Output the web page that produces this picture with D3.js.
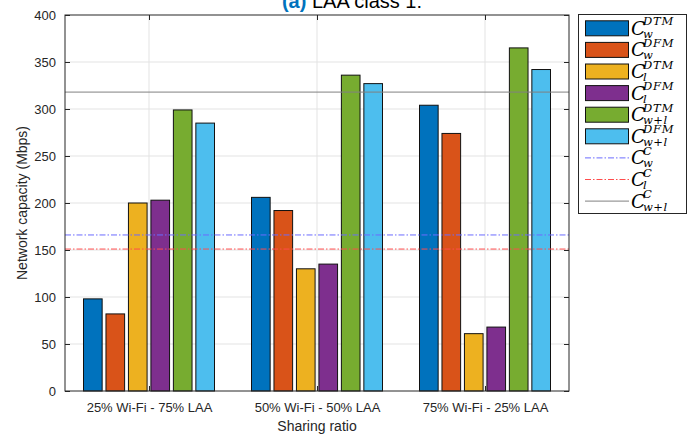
<!DOCTYPE html>
<html>
<head>
<meta charset="utf-8">
<script src="https://cdn.jsdelivr.net/npm/d3@7/dist/d3.min.js"></script>
<style>
  html, body { margin: 0; padding: 0; background: #fff; }
  svg { display: block; }
  text { font-family: "Liberation Sans", Arial, sans-serif; }
</style>
</head>
<body>
<svg id="chart" width="691" height="435"></svg>
<script>
// Sharing ratios along the x axis
const categories = ["25% Wi-Fi - 75% LAA", "50% Wi-Fi - 50% LAA", "75% Wi-Fi - 25% LAA"];

// Per-series capacities (Mbps), one value per sharing ratio
const seriesNames = ["Cw_DTM", "Cw_DFM", "Cl_DTM", "Cl_DFM", "Cwl_DTM", "Cwl_DFM"];
const cwDTM  = [98, 206, 304];
const cwDFM  = [82, 192, 274];
const clDTM  = [200, 130, 61];
const clDFM  = [203, 135, 68];
const cwlDTM = [299, 336, 365];
const cwlDFM = [285, 327, 342];
const seriesValues = [cwDTM, cwDFM, clDTM, clDFM, cwlDTM, cwlDFM];

// Reference capacities drawn as horizontal lines
const refNames = ["Cw_C", "Cl_C", "Cwl_C"];
const refValues = [166, 151, 318];

const yTicks = [0, 50, 100, 150, 200, 250, 300, 350, 400];

const barColors = ["#0072BD", "#D95319", "#EDB120", "#7E2F8E", "#77AC30", "#4DBEEE"];
const refColors = ["#6b6bff", "#ff4d4d", "#808080"];
const refDash = ["6,2,1.5,2", "6,2,1.5,2", null];

// Legend labels: base, superscript, subscript
const legendLabels = [
  ["C", "DTM", "w"], ["C", "DFM", "w"], ["C", "DTM", "l"], ["C", "DFM", "l"],
  ["C", "DTM", "w+l"], ["C", "DFM", "w+l"],
  ["C", "C", "w"], ["C", "C", "l"], ["C", "C", "w+l"]
];

const svg = d3.select("#chart");
const margin = { left: 65, right: 569, top: 15, bottom: 391 };

const x = d3.scaleLinear().domain([0.5, 3.5]).range([margin.left, margin.right]);
const y = d3.scaleLinear().domain([0, 400]).range([margin.bottom, margin.top]);

// grid
const grid = svg.append("g");
grid.selectAll("line.h").data(yTicks.slice(1, -1)).join("line")
  .attr("x1", margin.left).attr("x2", margin.right)
  .attr("y1", d => y(d)).attr("y2", d => y(d))
  .attr("stroke", "#e3e3e3").attr("stroke-width", 1);
grid.selectAll("line.v").data(categories).join("line")
  .attr("x1", (d, i) => x(i + 1)).attr("x2", (d, i) => x(i + 1))
  .attr("y1", margin.top).attr("y2", margin.bottom)
  .attr("stroke", "#e3e3e3").attr("stroke-width", 1);

// bars
const inner = d3.scaleBand().domain(d3.range(seriesNames.length))
  .range([-65.5, 65.5]).paddingInner(0.17);
const barsG = svg.append("g");
categories.forEach((c, ci) => {
  seriesValues.forEach((vals, si) => {
    barsG.append("rect")
      .attr("x", x(ci + 1) + inner(si))
      .attr("y", y(vals[ci]))
      .attr("width", inner.bandwidth())
      .attr("height", y(0) - y(vals[ci]))
      .attr("fill", barColors[si])
      .attr("stroke", "#111")
      .attr("stroke-width", 1);
  });
});

// reference lines
refValues.forEach((v, i) => {
  svg.append("line")
    .attr("x1", margin.left).attr("x2", margin.right)
    .attr("y1", y(v)).attr("y2", y(v))
    .attr("stroke", refColors[i]).attr("stroke-width", 1)
    .attr("stroke-dasharray", refDash[i]);
});

// axes frame and ticks
const axisColor = "#262626";
const yAxis = d3.axisLeft(y).tickValues(yTicks).tickSize(-5).tickPadding(9);
const gy = svg.append("g").attr("transform", `translate(${margin.left},0)`).call(yAxis);
const gyR = svg.append("g").attr("transform", `translate(${margin.right},0)`)
  .call(d3.axisRight(y).tickValues(yTicks).tickSize(-5).tickFormat(""));
const xAxis = d3.axisBottom(x).tickValues([1, 2, 3]).tickFormat((d) => categories[d - 1])
  .tickSize(-5).tickPadding(12);
const gx = svg.append("g").attr("transform", `translate(0,${margin.bottom})`).call(xAxis);
const gxT = svg.append("g").attr("transform", `translate(0,${margin.top})`)
  .call(d3.axisTop(x).tickValues([1, 2, 3]).tickSize(-5).tickFormat(""));
[gy, gyR, gx, gxT].forEach(g => {
  g.select(".domain").remove();
  g.selectAll("line").attr("stroke", axisColor);
  g.selectAll("text").attr("fill", axisColor).style("font-size", "13px")
    .style("font-family", "'Liberation Sans', Arial, sans-serif");
});
svg.append("rect")
  .attr("x", margin.left).attr("y", margin.top)
  .attr("width", margin.right - margin.left).attr("height", margin.bottom - margin.top)
  .attr("fill", "none").attr("stroke", axisColor).attr("stroke-width", 1);

// axis labels
svg.append("text").attr("x", (margin.left + margin.right) / 2).attr("y", 431)
  .attr("text-anchor", "middle").attr("fill", axisColor).style("font-size", "14px")
  .text("Sharing ratio");
svg.append("text")
  .attr("transform", `translate(27,${(margin.top + margin.bottom) / 2}) rotate(-90)`)
  .attr("text-anchor", "middle").attr("fill", axisColor).style("font-size", "14px")
  .text("Network capacity (Mbps)");

// title (sits partly above the top edge)
const title = svg.append("text").attr("x", 352).attr("y", 7.5)
  .attr("text-anchor", "middle").style("font-size", "20px").attr("fill", "#000");
title.append("tspan").attr("fill", "#0072BD").attr("font-weight", "bold").text("(a)");
title.append("tspan").text(" LAA class 1:");

// legend
const lg = svg.append("g");
lg.append("rect").attr("x", 578.5).attr("y", 14.5).attr("width", 108).attr("height", 199)
  .attr("fill", "#fff").attr("stroke", axisColor).attr("stroke-width", 1);
const rowY = i => 28.3 + i * 21.6;
const mathFont = "'DejaVu Serif', 'Liberation Serif', serif";
legendLabels.forEach((lab, i) => {
  const cy = rowY(i);
  if (i < 6) {
    lg.append("rect").attr("x", 585.5).attr("y", cy - 7.5).attr("width", 43).attr("height", 15)
      .attr("fill", barColors[i]).attr("stroke", "#111").attr("stroke-width", 1);
  } else {
    const k = i - 6;
    lg.append("line").attr("x1", 585).attr("x2", 629).attr("y1", cy).attr("y2", cy)
      .attr("stroke", refColors[k]).attr("stroke-width", 1)
      .attr("stroke-dasharray", refDash[k]);
  }
  // one text element per entry: C with a superscript and a subscript
  const t = lg.append("text")
    .style("font-family", mathFont).style("font-style", "italic").attr("fill", "#000");
  t.append("tspan").attr("x", 631).attr("y", cy + 6.5).style("font-size", "19px").text(lab[0]);
  t.append("tspan").attr("x", 643).attr("y", cy - 3).style("font-size", "11.5px")
    .style("letter-spacing", "0.8px").text(lab[1]);
  t.append("tspan").attr("x", 643).attr("y", cy + 9.5).style("font-size", "11.5px")
    .style("letter-spacing", "0.5px").text(lab[2]);
});
</script>
</body>
</html>
